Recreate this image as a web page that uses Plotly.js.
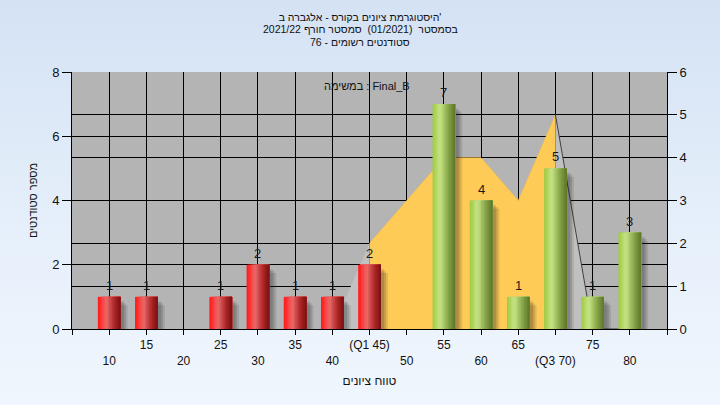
<!DOCTYPE html>
<html><head><meta charset="utf-8">
<script src="https://cdn.plot.ly/plotly-3.0.1.min.js"></script>
<style>
html,body{margin:0;padding:0;}
body{width:720px;height:405px;background:linear-gradient(180deg,#d4e2f4 0%,#e4eefa 50%,#f0f6fd 100%);overflow:hidden;}
#chart{width:720px;height:405px;}
</style>
</head><body><div id="chart"></div>
<script>
// ---- data ----
const lowCats = [10, 15, 25, 30, 35, 40, 45];
const lowCounts = [1, 1, 1, 2, 1, 1, 2];
const highCats = [55, 60, 65, 70, 75, 80];
const highCounts = [7, 4, 1, 5, 1, 3];
const curveX = [40, 45, 50, 55, 60, 65, 70, 75, 80];
const curveY = [0, 2, 3, 4, 4, 3, 5, 0, 0];
const q1 = 45, q3 = 70;
const tickCats = [10, 15, 20, 25, 30, 35, 40, 45, 50, 55, 60, 65, 70, 75, 80];
const tickLabels = ['10','15','20','25','30','35','40','(Q1 45)','50','55','60','65','(Q3 70)','75','80'];
const titleLines = ["היסטוגרמת ציונים בקורס - אלגברה ב'", "בסמסטר  (01/2021)  סמסטר חורף 2021/22", "סטודנטים רשומים - 76"];
const taskLabel = "במשימה : Final_B";
const xTitle = "טווח ציונים";
const yTitle = "מספר סטודנטים";

// ---- helpers ----
const FONT = 'Liberation Sans, Arial, DejaVu Sans, sans-serif';
function hex(c){return [parseInt(c.slice(1,3),16),parseInt(c.slice(3,5),16),parseInt(c.slice(5,7),16)];}
function grad(stops, t){
  for(let i=0;i<stops.length-1;i++){
    const [p0,c0]=stops[i],[p1,c1]=stops[i+1];
    if(t>=p0&&t<=p1){const f=(t-p0)/(p1-p0);const a=hex(c0),b=hex(c1);
      return 'rgb('+a.map((v,k)=>Math.round(v+(b[k]-v)*f)).join(',')+')';}
  }
  return stops[stops.length-1][1];
}
const redStops = [[0,'#ff1818'],[0.12,'#ff2e2e'],[0.3,'#f05a5a'],[0.4,'#e46868'],[0.55,'#cc4646'],[0.75,'#a82424'],[1,'#781010']];
const greenStops = [[0,'#9fca44'],[0.12,'#acd356'],[0.3,'#c4e285'],[0.4,'#bcd97c'],[0.55,'#9fbe5e'],[0.75,'#7e9c43'],[1,'#5a7628']];

const W = 3.05, N = 16;
const traces = [];

// area curve split at Q1/Q3
const seg = f => { const xs=[],ys=[]; curveX.forEach((x,i)=>{ if(f(x)){xs.push(x);ys.push(curveY[i]);} }); return {xs,ys}; };
const sL = seg(x=>x<=q1), sM = seg(x=>x>=q1&&x<=q3), sR = seg(x=>x>=q3);
traces.push({type:'scatter',x:sL.xs,y:sL.ys,mode:'none',fill:'tozeroy',fillcolor:'#c1c1c1',xaxis:'x',yaxis:'y',hoverinfo:'skip'});
traces.push({type:'scatter',x:sM.xs,y:sM.ys,mode:'lines',line:{color:'#f2bd4e',width:0.6},fill:'tozeroy',fillcolor:'#ffcb57',xaxis:'x',yaxis:'y',hoverinfo:'skip'});
traces.push({type:'scatter',x:sR.xs,y:sR.ys,mode:'lines',line:{color:'#404040',width:1},fill:'tozeroy',fillcolor:'#c0c0c0',xaxis:'x',yaxis:'y',hoverinfo:'skip'});

function addGroup(cats, counts, stops){
  // soft shadow
  [[0.45,0.14,0.16],[0.7,0.2,0.14],[0.95,0.26,0.12]].forEach(([dx,dy,a])=>{
    traces.push({type:'bar',x:cats,y:counts.map(v=>v-dy),offset:-W/2+dx,width:W,
      marker:{color:'rgba(30,30,30,'+a+')',line:{width:0}},xaxis:'x',yaxis:'y2',hoverinfo:'skip'});
  });
  // cylinder gradient slices
  for(let i=0;i<N;i++){
    traces.push({type:'bar',x:cats,y:counts,offset:-W/2+i*W/N,width:W-i*W/N,
      marker:{color:grad(stops,(i+0.5)/N),line:{width:0}},xaxis:'x',yaxis:'y2',hoverinfo:'skip'});
  }
}
addGroup(lowCats, lowCounts, redStops);
addGroup(highCats, highCounts, greenStops);

const allCats = lowCats.concat(highCats), allCounts = lowCounts.concat(highCounts);
const valueLabels = allCats.map((c,i)=>({xref:'x',yref:'y2',x:c,y:allCounts[i],text:String(allCounts[i]),
  showarrow:false,xanchor:'center',yanchor:'middle',yshift:11.5,font:{family:FONT,size:13,color:'#1a1a1a'}}));

const tickvals = [5].concat(tickCats,[85]);
const ticktext = [''].concat(tickLabels.map((t,i)=> i%2===0 ? '\u00a0<br>'+t : t),['']);
const titleFont = {family:FONT,size:10.5,color:'#111'};
const pY = px => 1 + (72 - px)/257;
const pX = px => (px - 72)/595;

const layout = {
  width:720,height:405,
  margin:{l:72,r:53,t:72,b:76,pad:0},
  paper_bgcolor:'rgba(0,0,0,0)',plot_bgcolor:'#b4b4b4',
  showlegend:false,barmode:'overlay',
  font:{family:FONT,color:'#111'},
  title:{text:titleLines[0],font:titleFont,x:0.5,xanchor:'center',xref:'container',
    y:1-17/405,yanchor:'middle',yref:'container'},
  xaxis:{range:[5,85],tickmode:'array',tickvals:tickvals,ticktext:ticktext,
    showgrid:true,gridcolor:'#000',gridwidth:1,zeroline:false,
    showline:true,linecolor:'#000',linewidth:1,ticks:'outside',ticklen:5,tickcolor:'#000',
    tickfont:{family:FONT,size:12,color:'#111'},
    title:{text:xTitle,font:{family:FONT,size:12,color:'#111'},standoff:9}},
  yaxis:{side:'right',range:[0,6],dtick:1,showgrid:true,gridcolor:'#000',gridwidth:1,zeroline:false,
    showline:true,linecolor:'#000',ticks:'outside',ticklen:9,tickcolor:'#000',
    tickfont:{family:FONT,size:13,color:'#111'}},
  yaxis2:{overlaying:'y',side:'left',range:[0,8],dtick:2,showgrid:true,gridcolor:'#000',gridwidth:1,zeroline:false,
    showline:true,linecolor:'#000',ticks:'outside',ticklen:9,tickcolor:'#000',
    tickfont:{family:FONT,size:13,color:'#111'},
    title:{text:yTitle,font:{family:FONT,size:11,color:'#111'},standoff:12}},
  annotations:[
    {text:titleLines[1],xref:'paper',yref:'paper',x:pX(360),y:pY(29.5),xanchor:'center',yanchor:'middle',showarrow:false,font:titleFont},
    {text:titleLines[2],xref:'paper',yref:'paper',x:pX(360),y:pY(42),xanchor:'center',yanchor:'middle',showarrow:false,font:titleFont},
    {text:taskLabel,xref:'paper',yref:'paper',x:pX(367),y:pY(86),xanchor:'center',yanchor:'middle',
    showarrow:false,font:{family:FONT,size:11,color:'#111'}}
  ].concat(valueLabels)
};
Plotly.newPlot('chart',traces,layout,{displayModeBar:false,staticPlot:true});
</script>
</body></html>
